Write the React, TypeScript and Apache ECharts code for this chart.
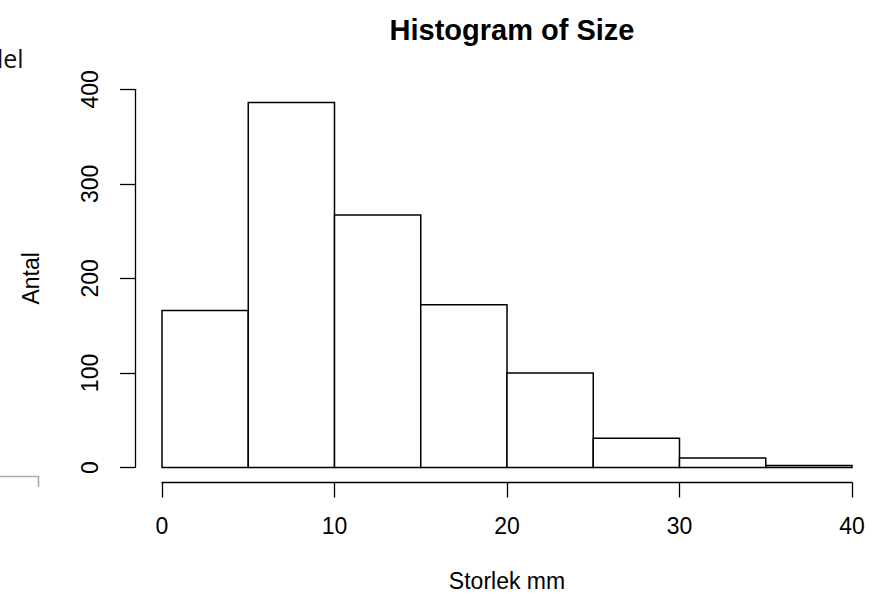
import React, { useEffect, useRef } from "react";
import * as echarts from "echarts";

const binStarts = [0, 5, 10, 15, 20, 25, 30, 35];
const binEnds = [5, 10, 15, 20, 25, 30, 35, 40];
const counts = [166, 386, 267, 172, 100, 31, 10, 2];
const xTicks = [0, 10, 20, 30, 40];
const yTicks = [0, 100, 200, 300, 400];

const FONT = "'Liberation Sans', Arial, sans-serif";

export default function App() {
  const ref = useRef<HTMLDivElement>(null);
  useEffect(() => {
    if (!ref.current) return;
    const chart = echarts.init(ref.current, null, { renderer: "svg" });
    const data = binStarts.map((s, i) => [s, binEnds[i], counts[i]]);
    chart.setOption({
      animation: false,
      backgroundColor: "#ffffff",
      title: {
        text: "Histogram of Size",
        left: 507,
        top: 10,
        textAlign: "center",
        textStyle: { fontFamily: FONT, fontSize: 29, fontWeight: "bold", color: "#000" },
      },
      grid: { left: 162, right: 29, top: 89.3, bottom: 135.5 },
      xAxis: {
        type: "value",
        min: xTicks[0],
        max: xTicks[xTicks.length - 1],
        interval: 10,
        offset: 15,
        name: "Storlek mm",
        nameLocation: "middle",
        nameGap: 87,
        nameTextStyle: { fontFamily: FONT, fontSize: 23, color: "#000" },
        axisLine: { show: true, onZero: false, lineStyle: { color: "#000", width: 1.3 } },
        axisTick: { show: true, length: 15, lineStyle: { color: "#000", width: 1.3 } },
        axisLabel: { fontFamily: FONT, fontSize: 23, color: "#000", margin: 32, showMinLabel: true, showMaxLabel: true },
        splitLine: { show: false },
      },
      yAxis: {
        type: "value",
        min: yTicks[0],
        max: yTicks[yTicks.length - 1],
        interval: 100,
        offset: 27,
        name: "Antal",
        nameLocation: "middle",
        nameGap: 93,
        nameRotate: 90,
        nameTextStyle: { fontFamily: FONT, fontSize: 23, color: "#000" },
        axisLine: { show: true, onZero: false, lineStyle: { color: "#000", width: 1.3 } },
        axisTick: { show: true, length: 15, lineStyle: { color: "#000", width: 1.3 } },
        axisLabel: { fontFamily: FONT, fontSize: 23, color: "#000", rotate: 90, margin: 34, showMinLabel: true, showMaxLabel: true },
        splitLine: { show: false },
      },
      series: [
        {
          type: "custom",
          data,
          encode: { x: [0, 1], y: 2 },
          renderItem: (params: any, api: any) => {
            const p0 = api.coord([api.value(0), api.value(2)]);
            const p1 = api.coord([api.value(1), 0]);
            return {
              type: "rect",
              shape: { x: p0[0], y: p0[1], width: p1[0] - p0[0], height: p1[1] - p0[1] },
              style: { fill: "#ffffff", stroke: "#000000", lineWidth: 1.5 },
            };
          },
        },
      ],
      graphic: [
        {
          type: "text",
          left: -3,
          top: 45,
          style: { text: "lel", fontFamily: "'Open Sans', sans-serif", fontSize: 25, fill: "#111" },
        },
        {
          type: "polyline",
          shape: { points: [[0, 476.5], [38.5, 476.5], [38.5, 487]] },
          style: { stroke: "#aaaaaa", lineWidth: 1.5, fill: "none" },
        },
      ],
    });
    return () => chart.dispose();
  }, []);
  return <div ref={ref} style={{ position: "fixed", left: 0, top: 0, width: 881, height: 603 }} />;
}
